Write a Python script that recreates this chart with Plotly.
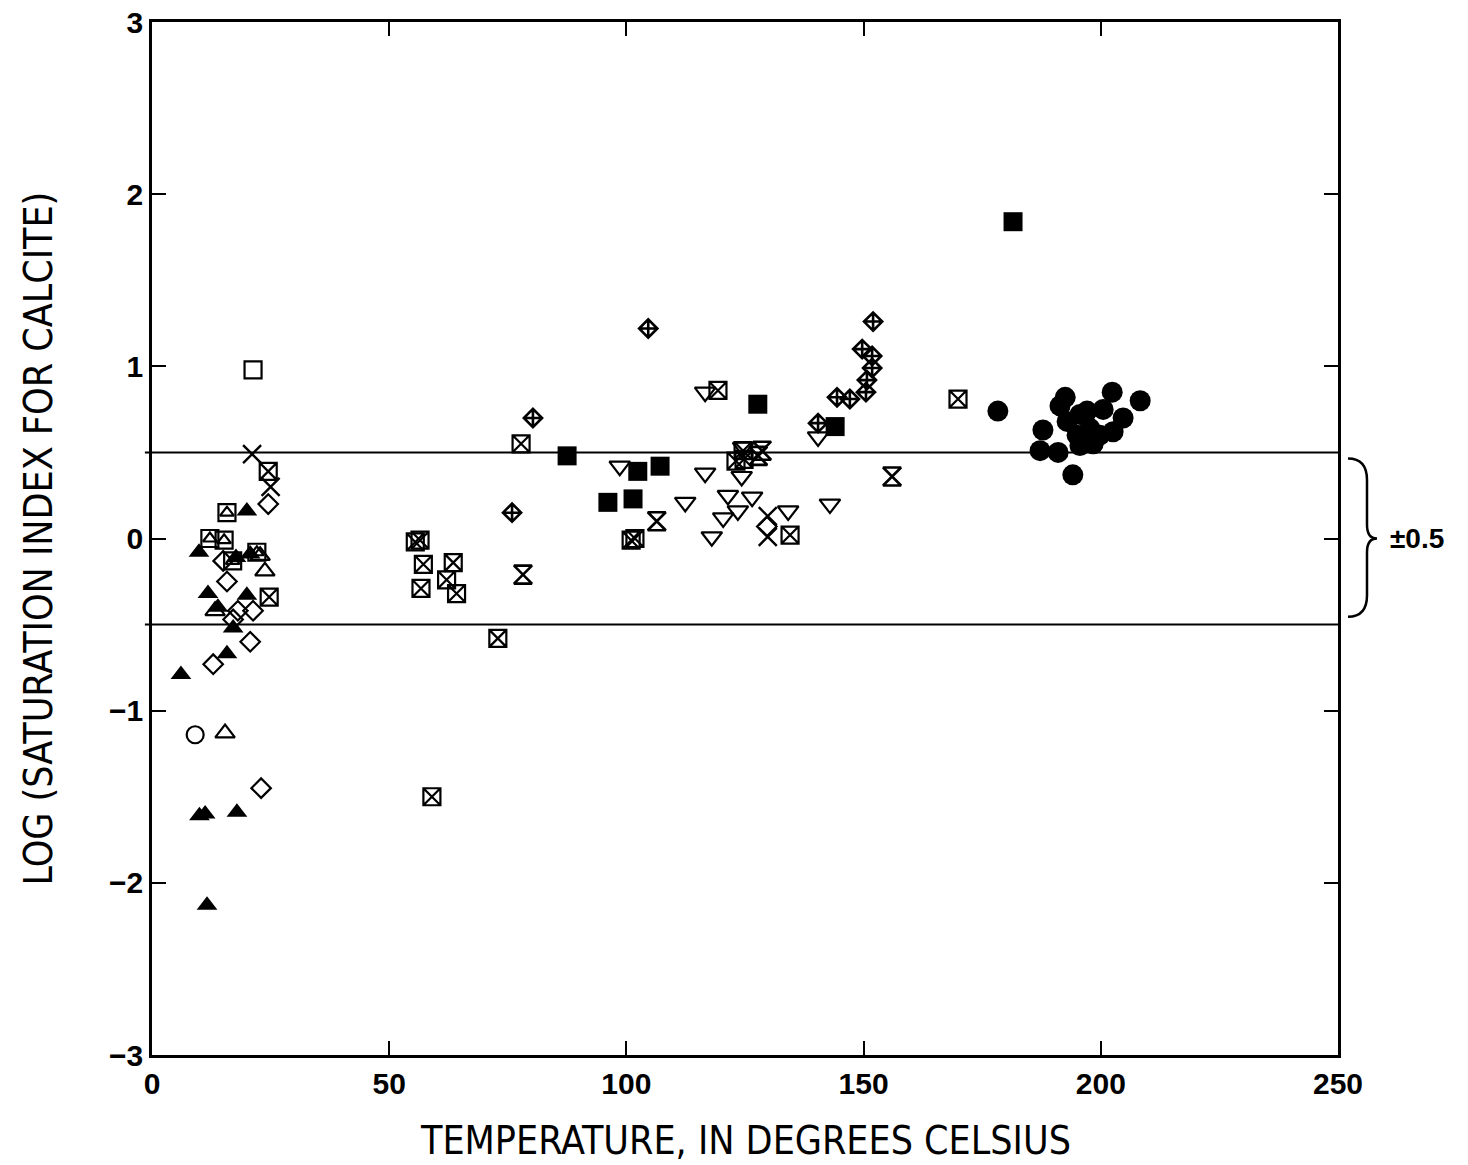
import plotly.graph_objects as go

# ---------------- data ----------------
tri_fill_x = [9.9, 20.0, 11.8, 20.0, 13.9, 17.1, 15.8, 6.1, 10.0, 11.2, 17.9, 11.6, 17.7, 20.7]
tri_fill_y = [-0.08, 0.16, -0.32, -0.33, -0.40, -0.52, -0.67, -0.79, -1.61, -1.60, -1.59, -2.13, -0.11, -0.09]

sqtri_x = [15.8, 12.2, 15.2, 22.1, 17.0]
sqtri_y = [0.15, 0.00, -0.01, -0.08, -0.13]

tri_open_x = [23.8, 13.3, 15.4, 22.8]
tri_open_y = [-0.19, -0.42, -1.13, -0.10]

diam_x = [24.5, 15.8, 18.1, 21.3, 17.1, 20.7, 12.9, 23.0, 15.0, 129.6]
diam_y = [0.20, -0.25, -0.42, -0.42, -0.47, -0.60, -0.73, -1.45, -0.13, 0.07]

circ_open_x = [9.1]
circ_open_y = [-1.14]

sq_open_x = [21.3]
sq_open_y = [0.98]

xmark_x = [21.1, 25.0, 129.8, 129.8]
xmark_y = [0.49, 0.30, 0.13, 0.01]

sqx_x = [24.5, 24.7, 55.5, 56.5, 57.2, 63.5, 62.1, 56.7, 64.2, 72.9, 77.8, 59.0,
         101.0, 101.8, 119.3, 134.5, 169.9, 124.6, 124.8, 123.1]
sqx_y = [0.39, -0.34, -0.02, -0.01, -0.15, -0.14, -0.24, -0.29, -0.32, -0.58, 0.55, -1.50,
         -0.01, 0.00, 0.86, 0.02, 0.81, 0.51, 0.46, 0.45]

dcross_x = [80.3, 75.9, 104.6, 152.0, 149.7, 151.8, 151.8, 150.7, 150.5, 144.4, 147.1, 140.4]
dcross_y = [0.70, 0.15, 1.22, 1.26, 1.10, 1.06, 0.99, 0.92, 0.85, 0.82, 0.81, 0.67]

sq_fill_x = [87.5, 127.7, 144.0, 107.1, 102.4, 96.1, 101.4, 181.5]
sq_fill_y = [0.48, 0.78, 0.65, 0.42, 0.39, 0.21, 0.23, 1.84]

tdown_x = [98.6, 116.6, 112.4, 121.4, 126.5, 123.5, 120.4, 118.0, 134.1, 142.9, 116.6, 140.4, 124.6, 124.3]
tdown_y = [0.42, 0.38, 0.21, 0.25, 0.24, 0.16, 0.12, 0.01, 0.16, 0.20, 0.85, 0.59, 0.53, 0.36]

hour_x = [78.2, 106.4, 156.0, 128.6, 127.8]
hour_y = [-0.21, 0.10, 0.36, 0.51, 0.48]

circ_fill_x = [178.3, 202.4, 208.3, 192.5, 191.4, 187.8, 187.2, 191.0, 194.1, 197.1,
               200.5, 204.7, 202.6, 197.7, 195.0, 198.4, 195.6, 199.8, 192.9, 195.6]
circ_fill_y = [0.74, 0.85, 0.80, 0.82, 0.77, 0.63, 0.51, 0.50, 0.37, 0.74,
               0.75, 0.70, 0.62, 0.64, 0.60, 0.55, 0.54, 0.60, 0.68, 0.72]

x_ticks = [0, 50, 100, 150, 200, 250]
y_ticks = [-3, -2, -1, 0, 1, 2, 3]
band = [0.5, -0.5]

x_title = "TEMPERATURE, IN DEGREES CELSIUS"
y_title = "LOG (SATURATION INDEX FOR CALCITE)"

# ---------------- figure ----------------
fig = go.Figure()
LW = 2.2


def add(x, y, symbol, size, filled=False, lw=LW):
    fig.add_trace(go.Scatter(
        x=x, y=y, mode="markers", showlegend=False, hoverinfo="skip",
        marker=dict(symbol=symbol, size=size, color="black",
                    line=dict(color="black", width=0 if filled else lw))))


add(sq_open_x, sq_open_y, "square-open", 17)
add(sqtri_x, sqtri_y, "square-open", 17)
add(sqtri_x, sqtri_y, "triangle-up-open", 12)
add(tri_open_x, tri_open_y, "triangle-up-open", 17)
add(diam_x, diam_y, "diamond-open", 15)
add(circ_open_x, circ_open_y, "circle-open", 17)
add(xmark_x, xmark_y, "x-thin-open", 18, lw=2.4)
add(sqx_x, sqx_y, "square-x-open", 17)
add(dcross_x, dcross_y, "diamond-cross-open", 14, lw=2.6)
add(tdown_x, tdown_y, "triangle-down-open", 18)
add(hour_x, hour_y, "hourglass-open", 18, lw=2.6)
add(tri_fill_x, tri_fill_y, "triangle-up", 18, filled=True)
add(sq_fill_x, sq_fill_y, "square", 19, filled=True)
add(circ_fill_x, circ_fill_y, "circle", 21, filled=True)

# +/-0.5 band lines
for yv in band:
    fig.add_shape(type="line", xref="paper", yref="y", x0=-0.006, x1=1.0, y0=yv, y1=yv,
                  line=dict(color="black", width=2))

# curly brace to the right of the plot
px = 1 / 1186.0
py = 1 / 1033.0
xa = 1.0 + 10 * px
xb = 1.0 + 29 * px
xc = 1.0 + 39 * px
brace = (f"M {xa},0.465 Q {xb},0.465 {xb},0.34 L {xb},0.08 Q {xb},0 {xc},0 "
         f"Q {xb},0 {xb},-0.08 L {xb},-0.33 Q {xb},-0.455 {xa},-0.455")
fig.add_shape(type="path", xref="paper", yref="y", path=brace,
              line=dict(color="black", width=2.5))
fig.add_annotation(xref="paper", yref="y", x=1.0 + 50 * px, y=0, xanchor="left",
                   text="±0.5", showarrow=False,
                   font=dict(family="Liberation Sans, Arial", size=28, color="black", weight="bold"))

title_font = dict(family="DejaVu Sans Condensed, DejaVu Sans", size=39, color="black")
fig.add_annotation(xref="paper", yref="paper", x=0.5, y=-85 * py, text=x_title,
                   showarrow=False, xanchor="center", yanchor="middle", font=title_font)
fig.add_annotation(xref="paper", yref="paper", x=-114 * px, y=0.5, text=y_title,
                   showarrow=False, xanchor="center", yanchor="middle", textangle=-90,
                   font=title_font)

axis_common = dict(
    showgrid=False, zeroline=False, showline=True, linecolor="black", linewidth=2.5,
    mirror="ticks", ticks="inside", ticklen=14, tickwidth=2, tickcolor="black",
    automargin=False,
    tickfont=dict(family="Liberation Sans, Arial", size=30, color="black", weight="bold"),
)

fig.update_xaxes(range=[0, 250], tickvals=x_ticks, ticktext=[str(v) for v in x_ticks],
                 **axis_common)
fig.update_yaxes(range=[-3, 3], tickvals=y_ticks,
                 ticktext=[("−" + str(-v)) if v < 0 else str(v) for v in y_ticks],
                 **axis_common)

fig.update_layout(
    width=1468, height=1165,
    margin=dict(l=152, r=130, t=22, b=110),
    paper_bgcolor="white", plot_bgcolor="white",
)

fig.write_html("out.html")
